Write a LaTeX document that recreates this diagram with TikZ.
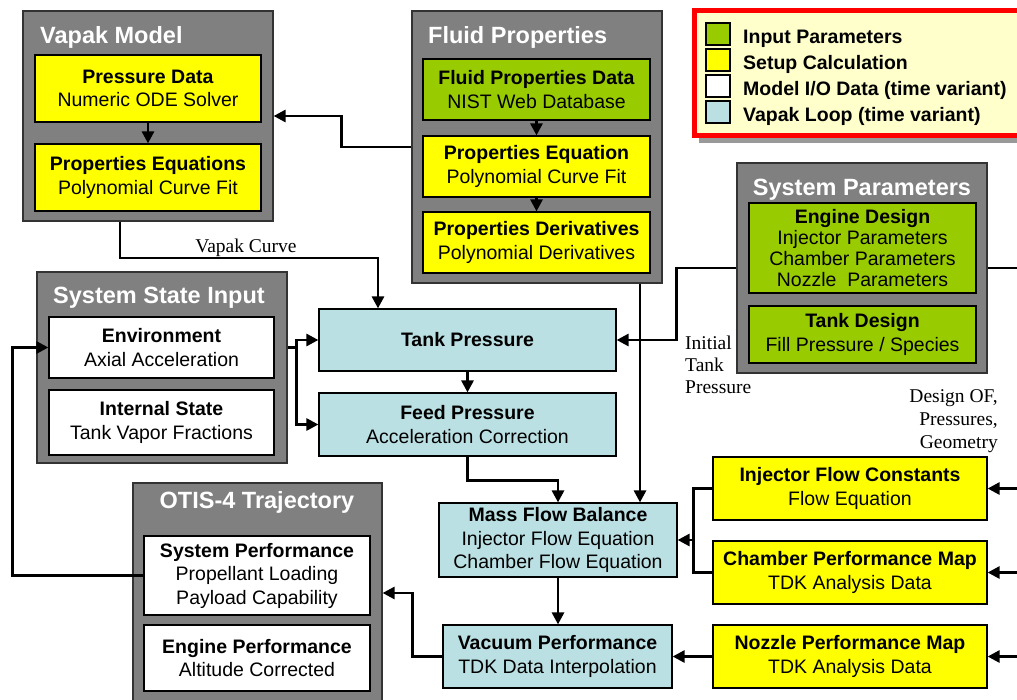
\documentclass[tikz,border=0pt]{standalone}
\usepackage{fontspec}
\setmainfont{Liberation Serif}
\newfontfamily\boxfont{Liberation Sans}
\usetikzlibrary{positioning,arrows.meta,calc}

\definecolor{grpgray}{RGB}{128,128,128}
\definecolor{inpgreen}{RGB}{153,204,0}
\definecolor{setupyellow}{RGB}{255,255,0}
\definecolor{loopblue}{RGB}{187,224,227}
\definecolor{legendfill}{RGB}{255,255,204}

\tikzset{
  box/.style={draw=black, line width=1.2, inner sep=0pt, align=center,
    font=\boxfont\fontsize{19.5}{23.5}\selectfont},
  grp/.style={draw=black!80, fill=grpgray, line width=1.2, inner sep=0pt},
  inp/.style={box, fill=inpgreen},
  setup/.style={box, fill=setupyellow},
  mio/.style={box, fill=white},
  vloop/.style={box, fill=loopblue},
  grptitle/.style={text=white, inner sep=0pt,
    font=\boxfont\fontsize{23.5}{28}\selectfont\bfseries},
  legtext/.style={inner sep=0pt, font=\boxfont\fontsize{19.5}{23.5}\selectfont\bfseries},
  flow/.style={line width=2.8, -{Triangle[length=12pt,width=12pt]}},
  link/.style={line width=2.8},
  lbl/.style={inner sep=0pt, font=\fontsize{19.5}{22}\selectfont},
}

\begin{document}
\begin{tikzpicture}[x=1pt, y=-1pt]
\useasboundingbox (0,0) rectangle (1017,699);
\clip (0,0) rectangle (1017,699);
% group boxes
\node[grp, minimum width=250, minimum height=210] (vapak) at (148,116) {};
\node[grp, minimum width=250, minimum height=272] (fluid) at (537,147) {};
\node[grp, minimum width=250, minimum height=210] (syspar) at (862,268) {};
\node[grp, minimum width=250, minimum height=191] (sysstate) at (162,367.5) {};
\node[grp, minimum width=249, minimum height=220] (otis) at (257.5,593) {};
% group titles
\node[grptitle, anchor=base west] (vapakt) at (40,43) {Vapak Model};
\node[grptitle, anchor=base west] (fluidt) at (428,43) {Fluid Properties};
\node[grptitle, anchor=base] (syspart) at (862,195) {System Parameters};
\node[grptitle, anchor=base] (sysstatet) at (159,303) {System State Input};
\node[grptitle, anchor=base] (otist) at (257,508) {OTIS-4 Trajectory};
% vapak model
\node[setup, minimum width=226, minimum height=67] (pdata) at (148,88.5) {\textbf{Pressure Data}\\Numeric ODE Solver};
\node[setup, minimum width=226, minimum height=67] (peq) at (148,177.5) {\textbf{Properties Equations}\\Polynomial Curve Fit};
% fluid properties
\node[inp, minimum width=227, minimum height=61] (fpdata) at (536.5,89.5) {\textbf{Fluid Properties Data}\\NIST Web Database};
\node[setup, minimum width=227, minimum height=61] (fpeq) at (536.5,166.5) {\textbf{Properties Equation}\\Polynomial Curve Fit};
\node[setup, minimum width=227, minimum height=61] (fpder) at (536.5,242.5) {\textbf{Properties Derivatives}\\Polynomial Derivatives};
% system parameters
\node[inp, minimum width=227, minimum height=90, font=\boxfont\fontsize{19.5}{20.7}\selectfont] (engine) at (862.5,248) {\textbf{Engine Design}\\Injector Parameters\\Chamber Parameters\\Nozzle\ \ Parameters};
\node[inp, minimum width=227, minimum height=57] (tankd) at (862.5,334.5) {\textbf{Tank Design}\\Fill Pressure / Species};
% system state input
\node[mio, minimum width=225, minimum height=61] (envir) at (161.5,347.5) {\textbf{Environment}\\Axial Acceleration};
\node[mio, minimum width=225, minimum height=65] (intst) at (161.5,422.5) {\textbf{Internal State}\\Tank Vapor Fractions};
% otis-4
\node[mio, minimum width=226, minimum height=79] (sysperf) at (257,575.5) {\textbf{System Performance}\\Propellant Loading\\Payload Capability};
\node[mio, minimum width=226, minimum height=66] (engperf) at (257,658) {\textbf{Engine Performance}\\Altitude Corrected};
% vapak loop
\node[vloop, minimum width=297, minimum height=62] (tankp) at (467.5,340) {\textbf{Tank Pressure}};
\node[vloop, minimum width=297, minimum height=63] (feedp) at (467.5,424.5) {\textbf{Feed Pressure}\\Acceleration Correction};
\node[vloop, minimum width=238, minimum height=74] (mfb) at (558,540) {\textbf{Mass Flow Balance}\\Injector Flow Equation\\Chamber Flow Equation};
\node[vloop, minimum width=229, minimum height=63] (vacp) at (557.5,656.5) {\textbf{Vacuum Performance}\\TDK Data Interpolation};
% engine setup
\node[setup, minimum width=274, minimum height=63] (injc) at (850,488.5) {\textbf{Injector Flow Constants}\\Flow Equation};
\node[setup, minimum width=274, minimum height=63] (champ) at (850,572.5) {\textbf{Chamber Performance Map}\\TDK Analysis Data};
\node[setup, minimum width=274, minimum height=63] (nozp) at (850,656.5) {\textbf{Nozzle Performance Map}\\TDK Analysis Data};
% legend
\fill[black!40] (699,15) rectangle (1035,143);
\draw[red, line width=5, fill=legendfill] (694.5,10.5) rectangle (1030,135.5);
\node[inp, minimum width=24, minimum height=22] (keyinp) at (718,34) {};
\node[setup, minimum width=24, minimum height=22] (keysetup) at (718,60) {};
\node[mio, minimum width=24, minimum height=22] (keymio) at (718,86) {};
\node[vloop, minimum width=24, minimum height=22] (keyloop) at (718,112) {};
\node[legtext, anchor=base west] (keyinpt) at (743,43) {Input Parameters};
\node[legtext, anchor=base west] (keysetupt) at (743,69) {Setup Calculation};
\node[legtext, anchor=base west] (keymiot) at (743,95) {Model I/O Data (time variant)};
\node[legtext, anchor=base west] (keyloopt) at (743,121) {Vapak Loop (time variant)};
% free ends and bends
\coordinate (vdrop) at ($(vapak.south)+(-28,0)$);
\coordinate (vcurve) at (378,258);
\coordinate (fdrop) at ($(fluid.south)+(103,0)$);
\coordinate (ebranch) at ($(sysstate.east |- envir)+(9,0)$);
\coordinate (ijunc) at ($(injc.west)+(-19,0)$);
\coordinate (redge0) at (1022,268);
\coordinate (redge1) at (1022,488.5);
\coordinate (redge2) at (1022,572.5);
\coordinate (redge3) at (1022,656.5);
% connectors
\draw[flow] (pdata) -- (peq);
\draw[flow] (fpdata) -- (fpeq);
\draw[flow] (fpeq) -- (fpder);
\draw[flow] (fluid.west) -- ++(-70,0) |- (vapak.east);
\draw[flow] (vdrop) |- (vcurve) -- (vcurve |- tankp.north);
\draw[flow] (fdrop) -- (fdrop |- mfb.north);
\draw[flow] (syspar.west) -- ++(-60,0) |- (tankp.east);
\draw[link] (syspar.east) -- (redge0);
\draw[link] (sysstate.east |- envir) -- (ebranch);
\draw[flow] (ebranch) |- (tankp.west);
\draw[flow] (ebranch) |- (feedp.west);
\draw[flow] (tankp) -- (feedp);
\draw[flow] (feedp.south) -- ++(0,24) -| (mfb.north);
\draw[flow] (mfb.south) -- (mfb.south |- vacp.north);
\draw[link] (injc.west) -- (ijunc) |- (champ.west);
\draw[flow] (ijunc |- mfb.east) -- (mfb.east);
\draw[flow] (nozp) -- (vacp);
\draw[flow] (vacp.west) -- ++(-30,0) |- (otis.east);
\draw[flow] (sysperf.west) -- ++(-131,0) |- (envir.west);
\draw[flow] (redge1) -- (injc.east);
\draw[flow] (redge2) -- (champ.east);
\draw[flow] (redge3) -- (nozp.east);
% labels
\node[lbl, anchor=base] (vclbl) at (246,252) {Vapak Curve};
\node[lbl, anchor=north west, align=left] (itplbl) at (685,335.5) {Initial\\Tank\\Pressure};
\node[lbl, anchor=north east, align=right, font=\fontsize{19.5}{23}\selectfont] (dsglbl) at (998,389) {Design OF,\\Pressures,\\Geometry};
\end{tikzpicture}
\end{document}
